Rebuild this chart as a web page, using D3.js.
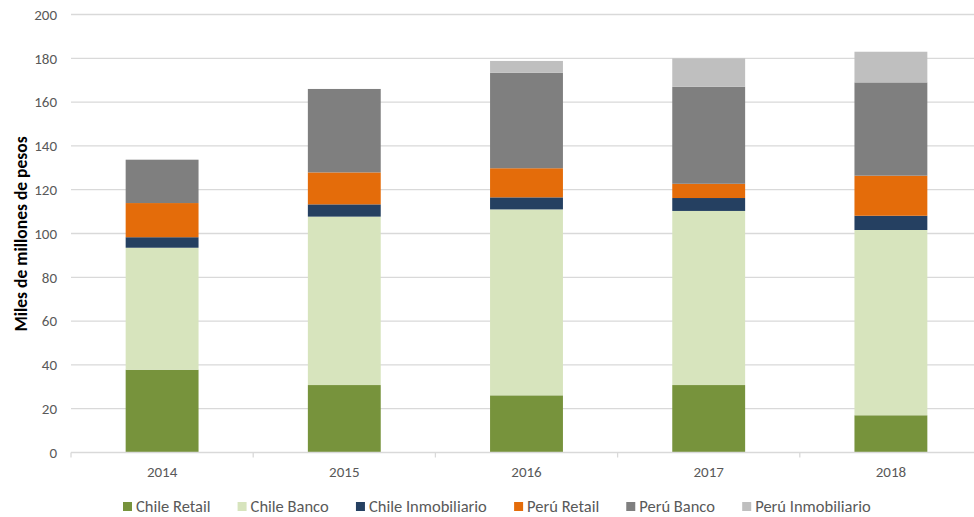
<!DOCTYPE html>
<html><head><meta charset="utf-8">
<script src="https://cdn.jsdelivr.net/npm/d3@7"></script>
<style>
body{margin:0;background:#fff;}
svg{display:block;font-family:Calibri,Carlito,Lato,"Open Sans",sans-serif;}
</style></head>
<body><svg id="c" width="974" height="517"></svg>
<script>
const years = ["2014","2015","2016","2017","2018"];
const seriesNames = ["Chile Retail","Chile Banco","Chile Inmobiliario","Perú Retail","Perú Banco","Perú Inmobiliario"];
const chileRetail = [37.8, 30.8, 26.1, 30.8, 17.0];
const chileBanco = [55.7, 76.9, 84.9, 79.5, 84.6];
const chileInmob = [4.8, 5.6, 5.5, 5.9, 6.5];
const peruRetail = [15.6, 14.6, 13.3, 6.5, 18.3];
const peruBanco = [19.8, 38.1, 43.6, 44.3, 42.6];
const peruInmob = [0, 0, 5.4, 13.0, 14.0];
const yTicks = [0,20,40,60,80,100,120,140,160,180,200];
const colors = ["#77933C","#D7E4BD","#254061","#E46C0A","#7F7F7F","#BFBFBF"];

const seriesVals = [chileRetail, chileBanco, chileInmob, peruRetail, peruBanco, peruInmob];
const table = years.map((y,i)=>{const o={year:y}; seriesNames.forEach((s,j)=>o[s]=seriesVals[j][i]); return o;});
const stacked = d3.stack().keys(seriesNames)(table);

const svg = d3.select("#c");
const x = d3.scaleBand().domain(years).range([71, 982]).paddingInner(0.6).paddingOuter(0.3);
const y = d3.scaleLinear().domain([0,200]).range([452.5, 14.5]);

// gridlines
svg.append("g").selectAll("line").data(yTicks.filter(t=>t>0)).join("line")
  .attr("x1",71).attr("x2",974).attr("y1",d=>y(d)).attr("y2",d=>y(d))
  .attr("stroke","#D9D9D9").attr("stroke-width",1.3);

// y labels
svg.append("g").selectAll("text").data(yTicks).join("text")
  .attr("x",57).attr("y",d=>y(d)).attr("dy","0.35em").attr("text-anchor","end")
  .attr("font-size",15).attr("fill","#595959").text(d=>d);

// bars
svg.append("g").selectAll("g").data(stacked).join("g")
  .attr("fill",(d,i)=>colors[i])
  .selectAll("rect").data(d=>d).join("rect")
  .attr("x",d=>x(d.data.year)).attr("width",x.bandwidth())
  .attr("y",d=>y(d[1])).attr("height",d=>Math.max(0,y(d[0])-y(d[1])));

// x axis
const bounds = d3.range(years.length+1).map(i=>71 + i*(911/years.length));
svg.append("line").attr("x1",71).attr("x2",974).attr("y1",y(0)).attr("y2",y(0))
  .attr("stroke","#D9D9D9").attr("stroke-width",1.3);
svg.append("g").selectAll("line").data(bounds).join("line")
  .attr("x1",d=>d).attr("x2",d=>d).attr("y1",y(0)).attr("y2",y(0)+5)
  .attr("stroke","#D9D9D9").attr("stroke-width",1.3);
svg.append("g").selectAll("text").data(years).join("text")
  .attr("x",d=>x(d)+x.bandwidth()/2).attr("y",472).attr("dy","0.35em").attr("text-anchor","middle")
  .attr("font-size",15).attr("fill","#595959").text(d=>d);

// y title
svg.append("text").attr("transform","translate(21,234) rotate(-90)")
  .attr("text-anchor","middle").attr("dy","0.35em").attr("font-size",17.5).attr("font-weight","bold")
  .attr("fill","#000").text("Miles de millones de pesos");

// legend
const lg = svg.append("g");
const items = lg.selectAll("g").data(seriesNames).join("g");
items.append("rect").attr("width",9).attr("height",9).attr("y",-4.5).attr("fill",(d,i)=>colors[i]);
items.append("text").attr("x",13).attr("y",0).attr("dy","0.35em").attr("font-size",16.5).attr("fill","#595959").text(d=>d);
const gap = 27; const widths=[];
items.each(function(){ widths.push(this.getBBox().width); });
let cx = 123;
items.attr("transform",(d,i)=>{const t=`translate(${cx},506.5)`; cx += widths[i]+gap; return t;});
</script></body></html>
